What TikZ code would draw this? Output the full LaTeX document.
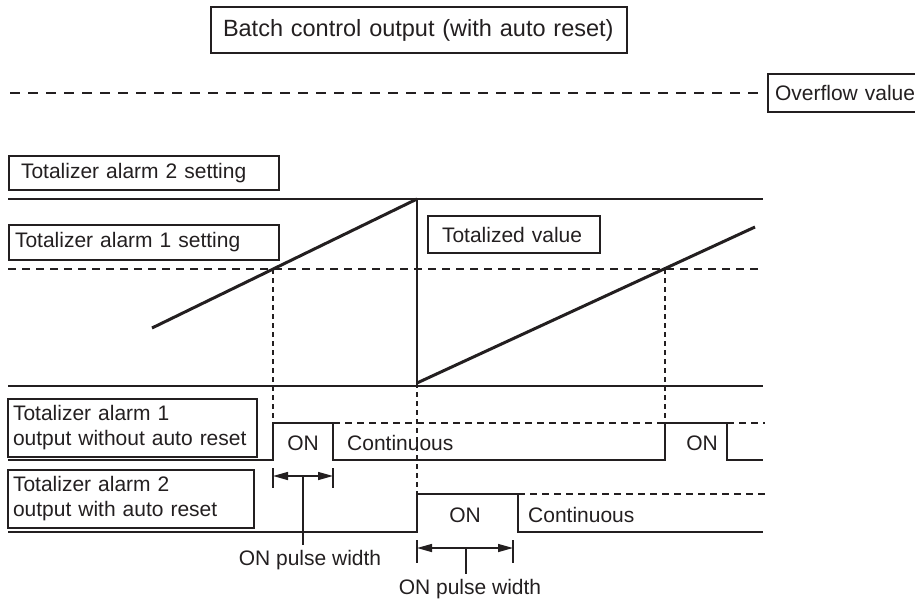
\documentclass[tikz,border=0pt]{standalone}
\usepackage{fontspec}
\setmainfont{Liberation Sans}
\usetikzlibrary{arrows.meta}
\definecolor{ink}{RGB}{35, 31, 32}

\begin{document}
\begin{tikzpicture}[x=1pt, y=-1pt, color=ink,
    txtbox/.style={draw=ink, line width=1.3pt, align=left, inner ysep=0pt,
                font=\fontsize{21}{25}\selectfont},
    sigtxt/.style={font=\fontsize{21}{25}\selectfont, inner sep=0pt},
    ramp/.style={line width=3pt},
    sigline/.style={line width=1.4pt},
    ovfline/.style={line width=1.3pt, dash pattern=on 10pt off 8pt},
    dashline/.style={line width=1.8pt, dash pattern=on 8pt off 6pt},
    sigdash/.style={line width=1.4pt, dash pattern=on 7pt off 5pt},
    dropline/.style={line width=2.2pt, dash pattern=on 5pt off 4pt},
    widtharrow/.style={line width=1.4pt,
                {Triangle[length=15pt,width=8pt]}-{Triangle[length=15pt,width=8pt]}}
]
    \clip (0,0) rectangle (915,598);

    % Title and overflow
    \node[txtbox, font=\fontsize{23.5}{28}\selectfont, text width=392pt,
          inner xsep=12pt, minimum height=46pt] (title) at (419,30)
          {Batch control output (with auto reset)};
    \node[txtbox, text width=145pt, inner xsep=7pt, minimum height=38pt] (ovf) at (847.5,93)
          {Overflow value};
    \draw[ovfline] (10,93) -- ([xshift=-6pt]ovf.west);

    % Setting labels
    \node[txtbox, text width=246pt, inner xsep=12pt, minimum height=34pt] (set2) at (144,173)
          {Totalizer alarm 2 setting};
    \node[txtbox, text width=258pt, inner xsep=6pt, minimum height=35pt] (set1) at (144,242.5)
          {Totalizer alarm 1 setting};
    \node[txtbox, text width=144pt, inner xsep=14pt, minimum height=37pt] (totval) at (514,234.5)
          {Totalized value};

    % Levels
    \draw[sigline] (8,199) -- (763,199);
    \draw[dashline] (8,269) -- (763,269);
    \draw[sigline] (8,386) -- (763,386);

    % Totalized value
    \coordinate (start) at (152,328);
    \coordinate (peak) at (417,199);
    \coordinate (trough) at (417,383);
    \coordinate (finish) at (755,227);
    \coordinate (hit1) at (273,269);
    \coordinate (hit2) at (665,269);
    \draw[ramp] (start) -- (peak);
    \draw[line width=2.6pt] (peak) -- (trough);
    \draw[ramp] (trough) -- (finish);

    % Drop lines
    \draw[dropline] (hit1) -- (273,423);
    \draw[dropline] (trough) -- (417,494);
    \draw[dropline] (hit2) -- (665,423);

    % Output labels
    \node[txtbox, text width=239pt, inner xsep=5pt, minimum height=58pt] (out1) at (132.5,428)
          {Totalizer alarm 1\\output without auto reset};
    \node[txtbox, text width=236pt, inner xsep=5pt, minimum height=58pt] (out2) at (131,499)
          {Totalizer alarm 2\\output with auto reset};

    % Alarm 1 output
    \draw[sigline] (8,460) -- (273,460) -- (273,423) -- (333,423) -- (333,460)
        -- (665,460) -- (665,423) -- (727,423) -- (727,460) -- (763,460);
    \draw[sigdash] (333,423) -- (665,423);
    \draw[sigdash] (727,423) -- (765,423);
    \node[sigtxt, anchor=base] (on1) at (303,450) {ON};
    \node[sigtxt, anchor=base west] (cont1) at (347,450) {Continuous};
    \node[sigtxt, anchor=base] (on1b) at (702,450) {ON};

    % Alarm 2 output
    \draw[sigline] (8,532) -- (417,532) -- (417,494) -- (518,494) -- (518,532) -- (763,532);
    \draw[sigdash] (518,494) -- (768,494);
    \node[sigtxt, anchor=base] (on2) at (465,522) {ON};
    \node[sigtxt, anchor=base west] (cont2) at (528,522) {Continuous};

    % Pulse widths
    \draw[sigline] (273,468) -- (273,488);
    \draw[sigline] (333,468) -- (333,488);
    \draw[widtharrow] (273,476) -- (333,476);
    \coordinate (pw1mid) at (303,476);
    \node[sigtxt, inner ysep=5pt, anchor=base] (pw1) at (310,565) {ON pulse width};
    \draw[sigline] (pw1mid) -- (pw1mid |- pw1.north);

    \draw[sigline] (417,540) -- (417,563);
    \draw[sigline] (513,540) -- (513,563);
    \draw[widtharrow] (417,548) -- (513,548);
    \coordinate (pw2mid) at (466,548);
    \node[sigtxt, inner ysep=5pt, anchor=base] (pw2) at (470,594) {ON pulse width};
    \draw[sigline] (pw2mid) -- (pw2mid |- pw2.north);
\end{tikzpicture}
\end{document}
